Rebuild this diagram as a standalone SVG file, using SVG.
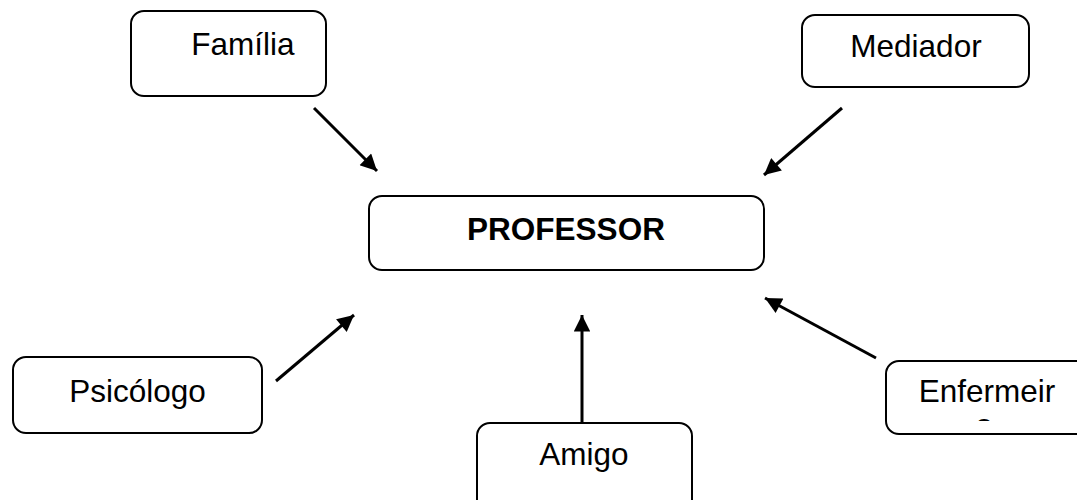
<svg xmlns="http://www.w3.org/2000/svg" width="1077" height="500" viewBox="0 0 1077 500">
<style>
.box{fill:#fff;stroke:#000;stroke-width:2}
.t{font-family:"Liberation Sans",Arial,sans-serif;font-size:31.5px;fill:#000;text-anchor:middle}
.b{font-weight:bold}
.c{stroke:#000;stroke-width:3;fill:none;marker-end:url(#ah)}
</style>
<defs>
<marker id="ah" viewBox="0 0 10 10" refX="10" refY="5" markerWidth="6.5" markerHeight="5.5" markerUnits="strokeWidth" orient="auto">
<path d="M0,0 L10,5 L0,10 z" fill="#000"/>
</marker>
<clipPath id="enfclip"><rect x="886" y="361" width="191" height="60"/></clipPath>
</defs>
<rect width="1077" height="500" fill="#fff"/>
<g id="connectors">
<line class="c" x1="314" y1="108" x2="377" y2="171"/>
<line class="c" x1="842" y1="108" x2="764" y2="175"/>
<line class="c" x1="276" y1="381" x2="354" y2="315"/>
<line class="c" x1="582" y1="422" x2="582" y2="315"/>
<line class="c" x1="876" y1="358" x2="765" y2="298"/>
</g>
<g id="professor">
<rect class="box" x="369" y="196" width="395" height="74" rx="13"/>
<text class="t b" x="566" y="240">PROFESSOR</text>
</g>
<g id="familia">
<rect class="box" x="131" y="11" width="195" height="85" rx="13"/>
<text class="t" x="243" y="55">Família</text>
</g>
<g id="mediador">
<rect class="box" x="802" y="15" width="227" height="72" rx="13"/>
<text class="t" x="916" y="57">Mediador</text>
</g>
<g id="psicologo">
<rect class="box" x="13" y="357" width="249" height="76" rx="13"/>
<text class="t" x="137.5" y="402">Psicólogo</text>
</g>
<g id="amigo">
<rect class="box" x="477" y="423" width="215" height="90" rx="13"/>
<text class="t" x="584" y="465">Amigo</text>
</g>
<g id="enfermeiro">
<rect class="box" x="886" y="361" width="210" height="73" rx="13"/>
<g clip-path="url(#enfclip)">
<text class="t" x="987" y="402">Enfermeir</text>
<text class="t" x="984" y="436">o</text>
</g>
</g>
</svg>
